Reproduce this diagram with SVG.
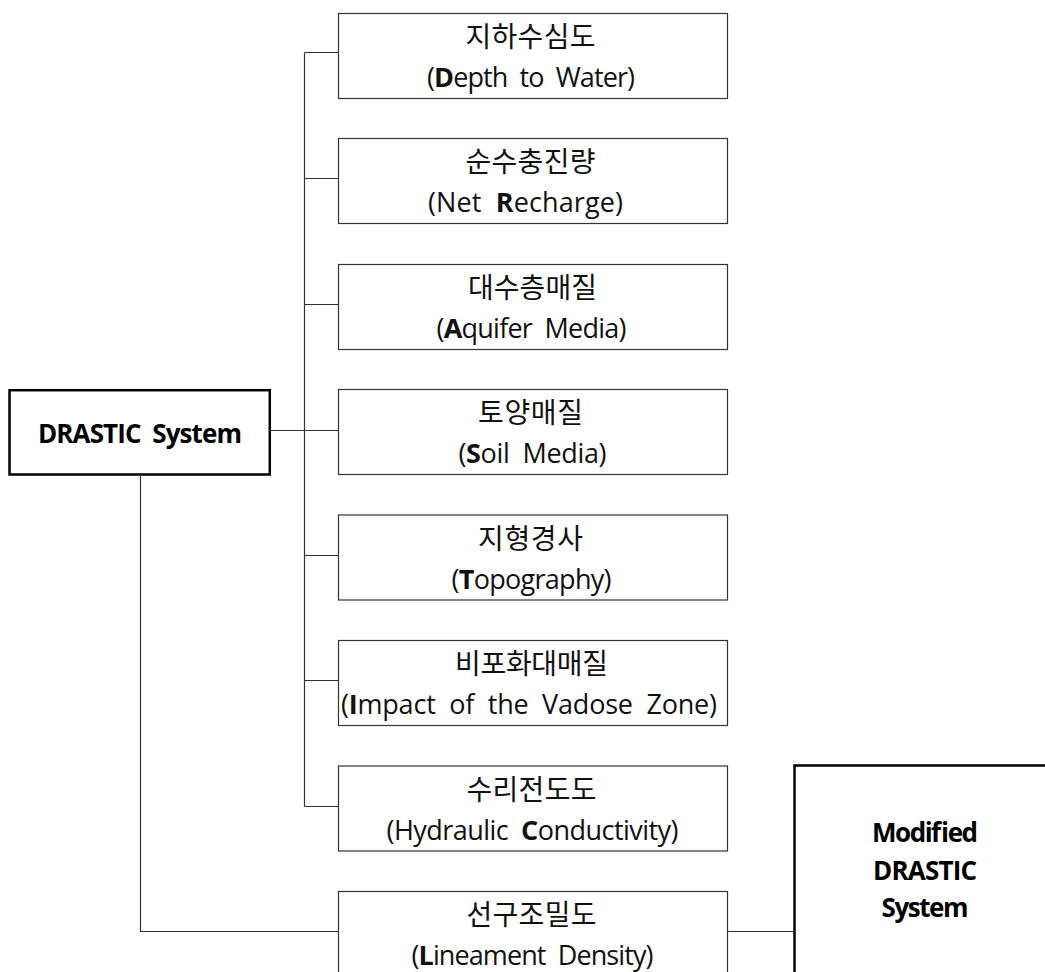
<svg xmlns="http://www.w3.org/2000/svg" width="1045" height="972" viewBox="0 0 1045 972">
<style>
.bg{fill:#ffffff}
.box{fill:#ffffff;stroke:#333333;stroke-width:1.2}
.main{fill:#ffffff;stroke:#000000;stroke-width:2.5}
.wire{fill:none;stroke:#333333;stroke-width:1.2}
.ko{font-family:"Noto Sans CJK KR","Open Sans",sans-serif;font-size:28px;fill:#111111;text-anchor:middle}
.en{font-family:"Open Sans","Noto Sans CJK KR",sans-serif;font-size:27px;fill:#111111;text-anchor:middle}
.b{font-weight:bold}
.title{font-family:"Open Sans","Noto Sans CJK KR",sans-serif;font-size:26px;font-weight:bold;fill:#000000;text-anchor:middle}
</style>
<rect class="bg" x="0" y="0" width="1045" height="972"/>
<g id="connectors">
<path class="wire" d="M304.5 52.5 V806.5"/>
<path class="wire" d="M304.5 52.5 H338.5"/>
<path class="wire" d="M304.5 178.5 H338.5"/>
<path class="wire" d="M304.5 304.5 H338.5"/>
<path class="wire" d="M271 430.5 H338.5"/>
<path class="wire" d="M304.5 555.5 H338.5"/>
<path class="wire" d="M304.5 680.5 H338.5"/>
<path class="wire" d="M304.5 806.5 H338.5"/>
<path class="wire" d="M140.5 476 V931.5 H338.5"/>
<path class="wire" d="M727.5 931.5 H794"/>
</g>
<g id="drastic">
<rect class="main" x="9.5" y="390.2" width="260.3" height="84.3"/>
<text class="title" x="140" y="443" xml:space="preserve" textLength="204" lengthAdjust="spacing">DRASTIC  System</text>
</g>
<g id="depth">
<rect class="box" x="338.5" y="13.5" width="389" height="85"/>
<text class="ko" x="530.5" y="47" textLength="130" lengthAdjust="spacing">지하수심도</text>
<text class="en" x="531" y="87" xml:space="preserve" textLength="208" lengthAdjust="spacing">(<tspan class="b">D</tspan>epth  to  Water)</text>
</g>
<g id="recharge">
<rect class="box" x="338.5" y="138.5" width="389" height="85"/>
<text class="ko" x="530.5" y="172" textLength="130" lengthAdjust="spacing">순수충진량</text>
<text class="en" x="525.5" y="212" xml:space="preserve" textLength="195" lengthAdjust="spacing">(Net  <tspan class="b">R</tspan>echarge)</text>
</g>
<g id="aquifer">
<rect class="box" x="338.5" y="264.5" width="389" height="85"/>
<text class="ko" x="532.5" y="298" textLength="129" lengthAdjust="spacing">대수층매질</text>
<text class="en" x="531.5" y="338" xml:space="preserve" textLength="190" lengthAdjust="spacing">(<tspan class="b">A</tspan>quifer  Media)</text>
</g>
<g id="soil">
<rect class="box" x="338.5" y="389.5" width="389" height="85"/>
<text class="ko" x="530.5" y="423" textLength="105" lengthAdjust="spacing">토양매질</text>
<text class="en" x="532.5" y="463" xml:space="preserve" textLength="148" lengthAdjust="spacing">(<tspan class="b">S</tspan>oil  Media)</text>
</g>
<g id="topography">
<rect class="box" x="338.5" y="515" width="389" height="85"/>
<text class="ko" x="530.5" y="548.5" textLength="105" lengthAdjust="spacing">지형경사</text>
<text class="en" x="531.5" y="588.5" xml:space="preserve" textLength="160" lengthAdjust="spacing">(<tspan class="b">T</tspan>opography)</text>
</g>
<g id="vadose">
<rect class="box" x="338.5" y="640.5" width="389" height="85"/>
<text class="ko" x="531.5" y="674" textLength="153" lengthAdjust="spacing">비포화대매질</text>
<text class="en" x="529" y="714" xml:space="preserve" textLength="376" lengthAdjust="spacing">(<tspan class="b">I</tspan>mpact  of  the  Vadose  Zone)</text>
</g>
<g id="conductivity">
<rect class="box" x="338.5" y="766" width="389" height="85"/>
<text class="ko" x="531.5" y="799.5" textLength="130" lengthAdjust="spacing">수리전도도</text>
<text class="en" x="532.5" y="839.5" xml:space="preserve" textLength="292" lengthAdjust="spacing">(Hydraulic  <tspan class="b">C</tspan>onductivity)</text>
</g>
<g id="lineament">
<rect class="box" x="338.5" y="891.5" width="389" height="120"/>
<text class="ko" x="531.5" y="925" textLength="130" lengthAdjust="spacing">선구조밀도</text>
<text class="en" x="532.5" y="965" xml:space="preserve" textLength="242" lengthAdjust="spacing">(<tspan class="b">L</tspan>ineament  Density)</text>
</g>
<g id="modified">
<rect class="main" x="794.5" y="765.5" width="300" height="300"/>
<text class="title" x="925" y="842" textLength="106" lengthAdjust="spacing">Modified</text>
<text class="title" x="925" y="880" textLength="104" lengthAdjust="spacing">DRASTIC</text>
<text class="title" x="925" y="917" textLength="87" lengthAdjust="spacing">System</text>
</g>
</svg>
